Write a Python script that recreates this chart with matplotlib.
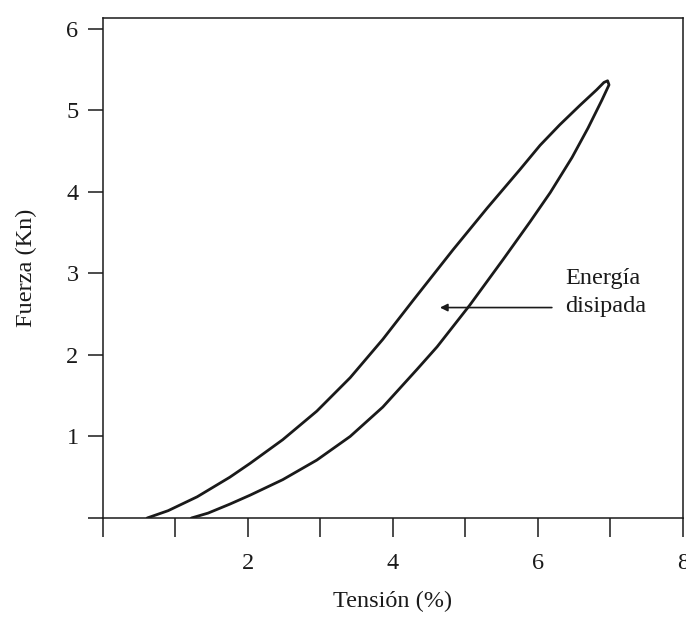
import numpy as np
import matplotlib
matplotlib.use("Agg")
import matplotlib.pyplot as plt

plt.rcParams['font.family'] = ['Liberation Serif', 'DejaVu Serif']

# rama superior (desde el origen hasta el pico)
x_sup = [0.61, 0.90, 1.30, 1.75, 2.03, 2.48, 2.95, 3.41, 3.86, 4.28, 4.83, 5.30, 5.75, 6.03, 6.30, 6.58, 6.81, 6.91, 6.96]
y_sup = [0.00, 0.09, 0.26, 0.50, 0.67, 0.96, 1.31, 1.72, 2.19, 2.67, 3.29, 3.80, 4.27, 4.57, 4.82, 5.06, 5.25, 5.34, 5.36]
# rama inferior (desde el pico de vuelta a cero)
x_inf = [6.98, 6.88, 6.69, 6.47, 6.17, 5.89, 5.52, 5.06, 4.61, 4.33, 3.86, 3.41, 2.95, 2.48, 2.03, 1.75, 1.45, 1.22]
y_inf = [5.31, 5.12, 4.78, 4.42, 3.99, 3.63, 3.17, 2.61, 2.10, 1.82, 1.36, 1.00, 0.71, 0.47, 0.28, 0.17, 0.06, 0.00]

x_ticks = [0, 1, 2, 3, 4, 5, 6, 7, 8]
x_labels = ['', '', '2', '', '4', '', '6', '', '8']
y_ticks = [0, 1, 2, 3, 4, 5, 6]
y_labels = ['', '1', '2', '3', '4', '5', '6']

col = '#1a1a1a'

fig = plt.figure(figsize=(6.86, 6.2), dpi=100)
ax = fig.add_axes([0.150, 0.1645, 0.8456, 0.8065])

ax.plot(x_sup + x_inf, y_sup + y_inf, color=col, lw=2.0,
        solid_joinstyle='round', solid_capstyle='round')

ax.set_xlim(0, 8)
ax.set_ylim(0, 6.13)
ax.set_xticks(x_ticks)
ax.set_xticklabels(x_labels)
ax.set_yticks(y_ticks)
ax.set_yticklabels(y_labels)

ax.tick_params(axis='x', direction='out', length=13.5, width=1.1, pad=12, labelsize=17.5, colors=col)
ax.tick_params(axis='y', direction='out', length=10.5, width=1.1, pad=7, labelsize=17.5, colors=col)
for s in ax.spines.values():
    s.set_linewidth(1.1)
    s.set_color(col)

ax.set_xlabel('Tensión (%)', fontsize=17.5, color=col, labelpad=12)
ax.set_ylabel('Fuerza (Kn)', fontsize=17.5, color=col, labelpad=21)

ax.annotate('', xy=(4.61, 2.58), xytext=(6.23, 2.58),
            arrowprops=dict(arrowstyle='-|>', color=col, lw=1.2, mutation_scale=11))
ax.text(6.37, 2.76, 'Energía\ndisipada', fontsize=17.5, color=col,
        ha='left', va='center', linespacing=1.45)

fig.savefig('out.png', dpi=100)
